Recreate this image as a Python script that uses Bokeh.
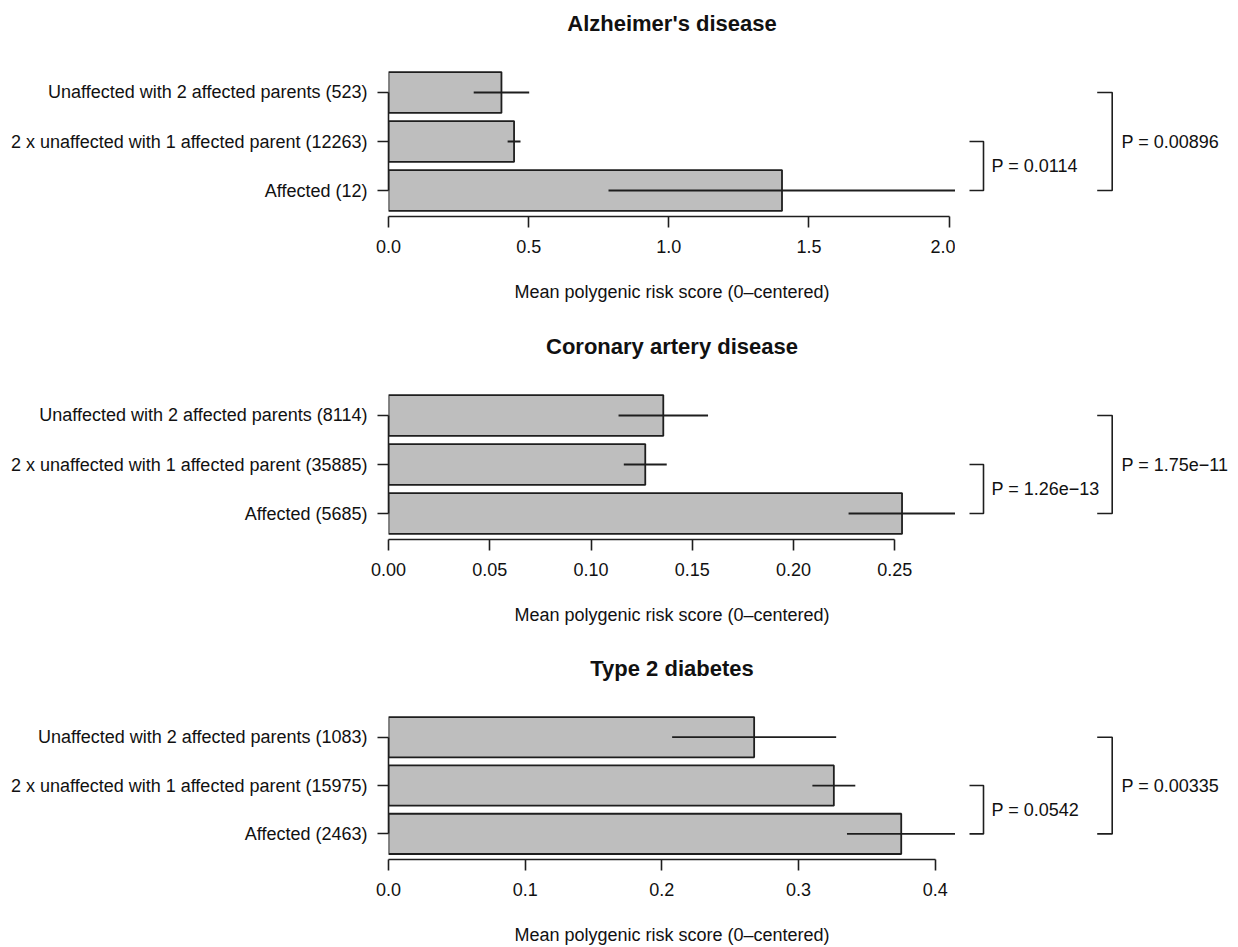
from bokeh.plotting import figure
from bokeh.models import Range1d, FixedTicker
from bokeh.layouts import column, row
from bokeh.embed import file_html
from bokeh.resources import INLINE
from bokeh.core.properties import value

# ---------------- data ----------------
titles = ["Alzheimer's disease", "Coronary artery disease", "Type 2 diabetes"]
# groups listed bottom -> top (R barplot order)
groups = ["Affected", "2 x unaffected with 1 affected parent", "Unaffected with 2 affected parents"]

ad_n = [12, 12263, 523]
ad_mean = [1.404, 0.448, 0.403]
ad_err = [0.619, 0.023, 0.099]
ad_p = ["P = 0.0114", "P = 0.00896"]
ad_ticks = [0.0, 0.5, 1.0, 1.5, 2.0]
ad_tick_labels = ["0.0", "0.5", "1.0", "1.5", "2.0"]

cad_n = [5685, 35885, 8114]
cad_mean = [0.2536, 0.1268, 0.1357]
cad_err = [0.0264, 0.0106, 0.0221]
cad_p = ["P = 1.26e\u221213", "P = 1.75e\u221211"]
cad_ticks = [0.0, 0.05, 0.10, 0.15, 0.20, 0.25]
cad_tick_labels = ["0.00", "0.05", "0.10", "0.15", "0.20", "0.25"]

t2d_n = [2463, 15975, 1083]
t2d_mean = [0.3751, 0.3258, 0.2675]
t2d_err = [0.0397, 0.0157, 0.0600]
t2d_p = ["P = 0.0542", "P = 0.00335"]
t2d_ticks = [0.0, 0.1, 0.2, 0.3, 0.4]
t2d_tick_labels = ["0.0", "0.1", "0.2", "0.3", "0.4"]

xlabel = "Mean polygenic risk score (0\u2013centered)"

# ---------------- layout constants ----------------
FONT = "Liberation Sans"
FS = "18px"
MAIN_W = 955          # main figure width (frame right edge = R plot region right)
LEFT = 388            # frame left
SIDE_W = 1238 - MAIN_W
PLOT_H = 150          # R plot region height
TOP = 66              # space above plot region (title area, inside the frame)
YLO, YHI = 0.064, 3.736
UNIT = PLOT_H / (YHI - YLO)
INK = "#1e1e1e"
TXT = "#111111"

panels = [
    (titles[0], ad_n, ad_mean, ad_err, ad_p, ad_ticks, ad_tick_labels, 323),
    (titles[1], cad_n, cad_mean, cad_err, cad_p, cad_ticks, cad_tick_labels, 323),
    (titles[2], t2d_n, t2d_mean, t2d_err, t2d_p, t2d_ticks, t2d_tick_labels, 301),
]

rows = []
for title, n, mean, err, pv, ticks, tlabels, h in panels:
    pos = [0.7 + 1.2 * i for i in range(len(mean))]
    hi = max(m + e for m, e in zip(mean, err))
    yr = Range1d(YLO, YHI + TOP / UNIT)
    bottom = h - TOP - PLOT_H

    p = figure(width=MAIN_W, height=h, output_backend="svg", toolbar_location=None,
               x_range=Range1d(0, hi), y_range=yr,
               min_border_left=LEFT, min_border_right=0, min_border_top=0,
               min_border_bottom=bottom)
    p.xgrid.visible = False
    p.ygrid.visible = False
    p.outline_line_color = None

    p.hbar(y=pos, left=0, right=mean, height=1.0, fill_color="#bebebe",
           line_color=INK, line_width=1.8)
    p.segment(x0=[m - e for m, e in zip(mean, err)], y0=pos,
              x1=[m + e for m, e in zip(mean, err)], y1=pos,
              line_color=INK, line_width=1.8)
    # panel title, centred over the plot region
    p.text(x=[hi / 2], y=[YHI + 43.5 / UNIT], text=[title],
           text_font=value(FONT), text_font_size="22px", text_font_style="bold",
           text_color=TXT, text_align="center", text_baseline="middle")

    xa = p.xaxis[0]
    xa.ticker = FixedTicker(ticks=ticks)
    xa.major_label_overrides = {t: l for t, l in zip(ticks, tlabels)}
    xa.bounds = (ticks[0], ticks[-1])
    xa.axis_label = xlabel
    xa.axis_label_text_font = FONT
    xa.axis_label_text_font_size = FS
    xa.axis_label_text_font_style = "normal"
    xa.axis_label_text_color = TXT
    xa.axis_label_standoff = 26
    ya = p.yaxis[0]
    ya.ticker = FixedTicker(ticks=pos)
    ya.major_label_overrides = {y: f"{g} ({k})" for y, g, k in zip(pos, groups, n)}
    ya.bounds = (pos[0], pos[-1])
    for ax in (xa, ya):
        ax.axis_line_color = INK
        ax.axis_line_width = 1.6
        ax.major_tick_line_color = INK
        ax.major_tick_line_width = 1.6
        ax.major_tick_in = 0
        ax.major_tick_out = 11
        ax.minor_tick_line_color = None
        ax.major_label_text_font = FONT
        ax.major_label_text_font_size = FS
        ax.major_label_text_color = TXT
    xa.major_label_standoff = 12
    ya.major_label_standoff = 10

    # side panel with significance brackets (x in pixel-like units of the page)
    s = figure(width=SIDE_W, height=h, output_backend="svg", toolbar_location=None,
               x_range=Range1d(MAIN_W, 1238), y_range=yr,
               x_axis_location=None, y_axis_location=None,
               min_border_left=0, min_border_right=0, min_border_top=0,
               min_border_bottom=bottom)
    s.xgrid.visible = False
    s.ygrid.visible = False
    s.outline_line_color = None
    xin0, xin1 = 969, 983
    xout0, xout1 = 1096.7, 1111.7
    s.multi_line(xs=[[xin0, xin1, xin1, xin0], [xout0, xout1, xout1, xout0]],
                 ys=[[pos[1], pos[1], pos[0], pos[0]], [pos[2], pos[2], pos[0], pos[0]]],
                 line_color=INK, line_width=1.6)
    s.text(x=[991, 1121], y=[(pos[0] + pos[1]) / 2, (pos[0] + pos[2]) / 2], text=pv,
           text_font=value(FONT), text_font_size=FS, text_color=TXT,
           text_align="left", text_baseline="middle")
    rows.append(row(p, s, spacing=0))

layout = column(*rows, spacing=0)
open("out.html", "w").write(file_html(layout, INLINE))
